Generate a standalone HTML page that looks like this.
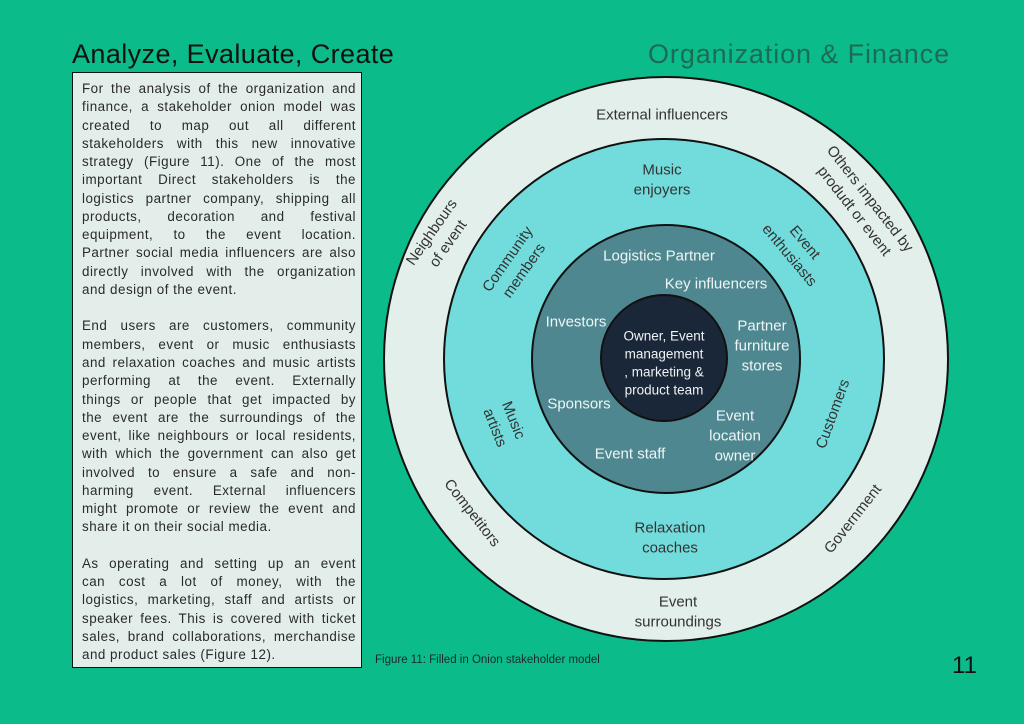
<!DOCTYPE html>
<html><head><meta charset="utf-8"><style>
html,body{margin:0;padding:0}
body{width:1024px;height:724px;background:#0bbb89;position:relative;overflow:hidden;font-family:"Liberation Sans",sans-serif}
.t1{position:absolute;left:72px;top:39px;font-size:27px;color:#111;letter-spacing:0.4px;white-space:nowrap}
.t2{position:absolute;right:74px;top:39px;font-size:27px;color:#1c6b55;letter-spacing:0.9px;white-space:nowrap}
.box{position:absolute;left:72px;top:72px;width:290px;height:596px;background:#e3eeeb;border:1.5px solid #111;box-sizing:border-box}
.txt{position:absolute;left:9px;top:7px;width:274px;font-size:13.4px;line-height:18.27px;color:#2a2a2a;letter-spacing:0.5px}
.txt span{display:block;text-align:justify;text-align-last:justify;white-space:nowrap;overflow:visible}
.txt span.l{text-align-last:left}
.txt .gap{height:18.27px}
.cap{position:absolute;left:375px;top:654px;font-size:11.5px;color:#1a2a2a}
.pg{position:absolute;left:952px;top:652px;font-size:24px;color:#111}
</style></head><body>
<div class="t1">Analyze, Evaluate, Create</div>
<div class="t2">Organization &amp; Finance</div>
<div class="box"><div class="txt">
<span>For the analysis of the organization and</span>
<span>finance, a stakeholder onion model was</span>
<span>created to map out all different</span>
<span>stakeholders with this new innovative</span>
<span>strategy (Figure 11). One of the most</span>
<span>important Direct stakeholders is the</span>
<span>logistics partner company, shipping all</span>
<span>products, decoration and festival</span>
<span>equipment, to the event location.</span>
<span>Partner social media influencers are also</span>
<span>directly involved with the organization</span>
<span class="l">and design of the event.</span>
<div class="gap"></div>
<span>End users are customers, community</span>
<span>members, event or music enthusiasts</span>
<span>and relaxation coaches and music artists</span>
<span>performing at the event. Externally</span>
<span>things or people that get impacted by</span>
<span>the event are the surroundings of the</span>
<span>event, like neighbours or local residents,</span>
<span>with which the government can also get</span>
<span>involved to ensure a safe and non-</span>
<span>harming event. External influencers</span>
<span>might promote or review the event and</span>
<span class="l">share it on their social media.</span>
<div class="gap"></div>
<span>As operating and setting up an event</span>
<span>can cost a lot of money, with the</span>
<span>logistics, marketing, staff and artists or</span>
<span>speaker fees. This is covered with ticket</span>
<span>sales, brand collaborations, merchandise</span>
<span class="l">and product sales (Figure 12).</span>
</div></div>

<svg width="1024" height="724" style="position:absolute;left:0;top:0" font-family="Liberation Sans, sans-serif">
<circle cx="666" cy="359" r="282" fill="#e3efeb" stroke="#111" stroke-width="2"/>
<circle cx="664" cy="359" r="220" fill="#72dcdc" stroke="#111" stroke-width="2"/>
<circle cx="666" cy="359" r="134" fill="#4f8790" stroke="#111" stroke-width="2"/>
<circle cx="664" cy="358" r="63" fill="#1a2738" stroke="#111" stroke-width="2"/>
<g font-size="15" fill="#333" text-anchor="middle" dominant-baseline="central">
<text x="662" y="115">External influencers</text>
<text x="662" y="170">Music</text><text x="662" y="190">enjoyers</text>
<text x="670" y="528">Relaxation</text><text x="670" y="548">coaches</text>
<text x="678" y="602">Event</text><text x="678" y="622">surroundings</text>
<g transform="translate(440,238) rotate(-55)"><text y="-10">Neighbours</text><text y="10">of event</text></g>
<g transform="translate(516,265) rotate(-55)"><text y="-10">Community</text><text y="10">members</text></g>
<g transform="translate(862,205) rotate(52)"><text y="-10">Others impacted by</text><text y="10">produdt or event</text></g>
<g transform="translate(797,249) rotate(50)"><text y="-10">Event</text><text y="10">enthusiasts</text></g>
<g transform="translate(504,424) rotate(68)"><text y="-10">Music</text><text y="10">artists</text></g>
<g transform="translate(833,414) rotate(-70)"><text>Customers</text></g>
<g transform="translate(472,513) rotate(52)"><text>Competitors</text></g>
<g transform="translate(853,519) rotate(-52)"><text>Government</text></g>
</g>
<g font-size="15" fill="#eef6f6" text-anchor="middle" dominant-baseline="central">
<text x="659" y="256">Logistics Partner</text>
<text x="716" y="284">Key influencers</text>
<text x="576" y="322">Investors</text>
<text x="762" y="326">Partner</text><text x="762" y="346">furniture</text><text x="762" y="366">stores</text>
<text x="579" y="404">Sponsors</text>
<text x="630" y="454">Event staff</text>
<text x="735" y="416">Event</text><text x="735" y="436">location</text><text x="735" y="456">owner</text>
</g>
<g font-size="13.5" fill="#eef2f4" text-anchor="middle" dominant-baseline="central">
<text x="664" y="336">Owner, Event</text>
<text x="664" y="354">management</text>
<text x="664" y="372">, marketing &amp;</text>
<text x="664" y="390">product team</text>
</g>
</svg>
<div class="cap">Figure 11: Filled in Onion stakeholder model</div>
<div class="pg">11</div>
</body></html>
